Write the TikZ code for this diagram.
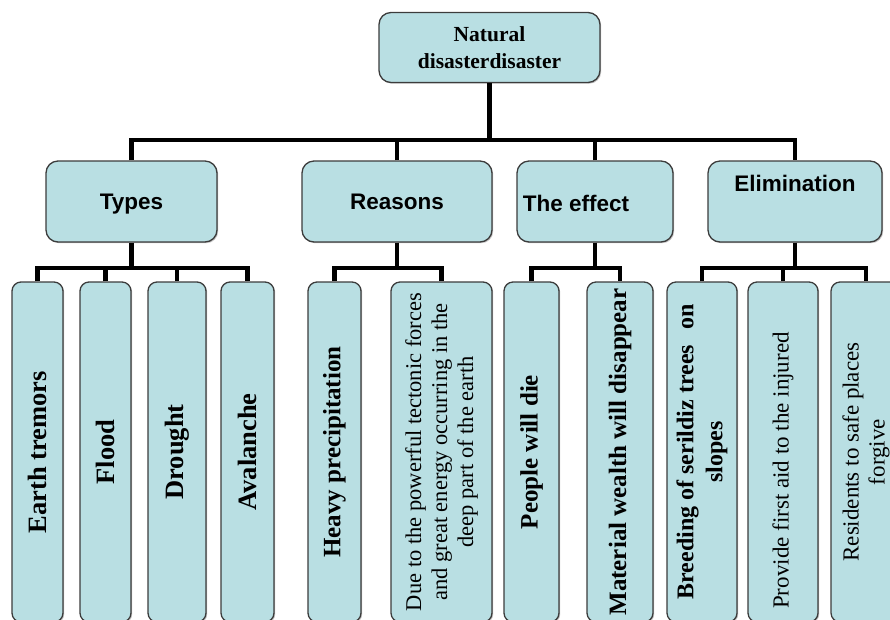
\documentclass[tikz,border=0pt]{standalone}
\usepackage{fontspec}
\usetikzlibrary{shadows}
\setmainfont{Liberation Serif}
\setsansfont{Liberation Sans}
\definecolor{boxfill}{RGB}{185,223,227}
\definecolor{boxline}{RGB}{60,60,60}
\tikzset{
  shad/.style={drop shadow={shadow xshift=1.2pt, shadow yshift=-1.2pt, fill=black!40, opacity=0.6}},
  hbox/.style={draw=boxline, fill=boxfill, line width=1.3pt, rounded corners=12pt, inner sep=0pt, shad},
  head/.style={hbox, text depth=0pt, font=\sffamily\bfseries\fontsize{22.5}{27}\selectfont},
  htext/.style={inner sep=0pt, text depth=0pt, font=\sffamily\bfseries\fontsize{22.5}{27}\selectfont},
  leaf/.style={draw=boxline, fill=boxfill, line width=1.3pt, rounded corners=9pt, rotate=90,
               minimum width=340pt, inner sep=0pt, align=center, shad},
  bigb/.style={font=\bfseries\fontsize{26.5}{30}\selectfont},
  midb/.style={font=\bfseries\fontsize{25}{29}\selectfont},
  conn/.style={line width=4.5pt, draw=black}
}
\begin{document}
\begin{tikzpicture}[x=1pt, y=-1pt]
\useasboundingbox (0,0) rectangle (890,619);
\clip (0,0) rectangle (890,619);

% root
\node[hbox, minimum width=221pt, minimum height=70pt, align=center,
      font=\bfseries\fontsize{21.5}{27}\selectfont] (root) at (489.5,47.5) {Natural\\disasterdisaster};

% headings
\node[head, minimum width=171pt, minimum height=81pt] (types) at (131.5,201.5) {Types};
\node[head, minimum width=190pt, minimum height=81pt] (reasons) at (397,201.5) {Reasons};
\node[hbox, minimum width=156pt, minimum height=81pt] (effect) at (595,201.5) {};
\node[htext] (effectt) at (576,203) {The effect};
\node[hbox, minimum width=174pt, minimum height=81pt] (elim) at (795,201.5) {};
\node[htext] (elimt) at (795,183) {Elimination};

% leaves: types
\node[leaf, bigb, minimum height=51pt] (t1) at (37.5,452) {Earth tremors};
\node[leaf, bigb, minimum height=51pt] (t2) at (105.5,452) {Flood};
\node[leaf, bigb, minimum height=58pt] (t3) at (177,452) {Drought};
\node[leaf, bigb, minimum height=53pt] (t4) at (247.5,452) {Avalanche};
% reasons
\node[leaf, midb, minimum height=53pt] (r1) at (334.5,452) {Heavy precipitation};
\node[leaf, minimum height=101pt, font=\fontsize{22.5}{26}\selectfont] (r2) at (441.5,452)
  {Due to the powerful tectonic forces\\and great energy occurring in the\\deep part of the earth};
% effect
\node[leaf, midb, minimum height=55pt] (e1) at (531.5,452) {People will die};
\node[leaf, midb, minimum height=66pt] (e2) at (620,452) {Material wealth will disappear};
% elimination
\node[leaf, minimum height=70pt, font=\bfseries\fontsize{24}{29}\selectfont] (l1) at (702,452)
  {Breeding of serildiz trees\hspace{9pt} on\\slopes};
\node[leaf, minimum height=70pt, font=\fontsize{23}{27}\selectfont] (l2) at (783,452)
  {Provide first aid to the injured\kern37pt};
\node[leaf, minimum height=70pt, font=\fontsize{23}{26}\selectfont] (l3) at (866,452)
  {Residents to safe places\\forgive};

% top-level connectors
\draw[conn] (root.south) -- (root.south |- 0,140);
\draw[conn] (types.north) |- (elim.north |- 0,140) -- (elim.north);
\draw[conn] (reasons.north) -- (reasons.north |- 0,140);
\draw[conn] (effect.north) -- (effect.north |- 0,140);

% types
\draw[conn] (types.south) -- (types.south |- 0,268);
\draw[conn] (t1.east) |- (t4.east |- 0,268) -- (t4.east);
\draw[conn] (t2.east) -- (t2.east |- 0,268);
\draw[conn] (t3.east) -- (t3.east |- 0,268);
% reasons
\draw[conn] (reasons.south) -- (reasons.south |- 0,268);
\draw[conn] (r1.east) |- (r2.east |- 0,268) -- (r2.east);
% effect
\draw[conn] (effect.south) -- (effect.south |- 0,268);
\draw[conn] (e1.east) |- (e2.east |- 0,268) -- (e2.east);
% elimination
\draw[conn] (elim.south) -- (elim.south |- 0,268);
\draw[conn] (l1.east) |- (l3.east |- 0,268) -- (l3.east);
\draw[conn] (l2.east) -- (l2.east |- 0,268);
\end{tikzpicture}
\end{document}
